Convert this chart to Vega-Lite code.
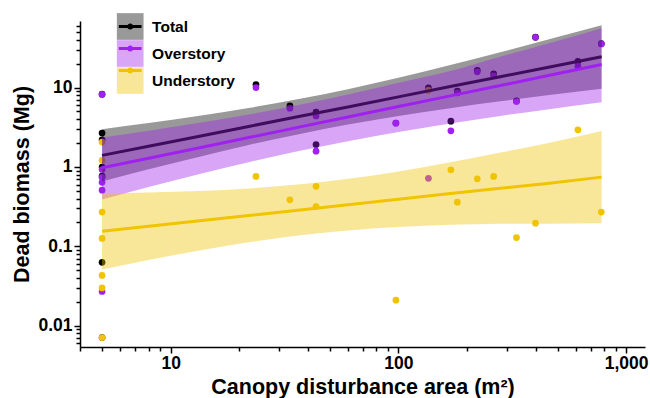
{
  "$schema": "https://vega.github.io/schema/vega-lite/v6.json",
  "width": 565,
  "height": 326,
  "autosize": {"type": "none"},
  "padding": {"left": 80, "top": 21, "right": 5, "bottom": 51},
  "config": {
    "view": {"stroke": null},
    "axis": {
      "domainColor": "#000000", "domainWidth": 1.5, "tickColor": "#000000", "tickWidth": 1.5,
      "labelFont": "Liberation Sans", "labelFontWeight": "bold", "labelFontSize": 17.5, "labelColor": "#000000",
      "titleFont": "Liberation Sans", "titleFontWeight": "bold", "titleFontSize": 21.5, "titleColor": "#000000",
      "grid": false
    }
  },
  "datasets": {
    "pts": [
      {"x": 5, "y": 8.25, "group": "Total"},
      {"x": 5, "y": 2.2, "group": "Total"},
      {"x": 5, "y": 1.0, "group": "Total"},
      {"x": 5, "y": 0.77, "group": "Total"},
      {"x": 5, "y": 2.67, "group": "Total"},
      {"x": 5, "y": 0.063, "group": "Total"},
      {"x": 5, "y": 0.0071, "group": "Total"},
      {"x": 23.7, "y": 10.9, "group": "Total"},
      {"x": 33.4, "y": 5.9, "group": "Total"},
      {"x": 43.5, "y": 4.9, "group": "Total"},
      {"x": 43.5, "y": 1.92, "group": "Total"},
      {"x": 97.5, "y": 3.58, "group": "Total"},
      {"x": 135.5, "y": 9.9, "group": "Total"},
      {"x": 170, "y": 3.77, "group": "Total"},
      {"x": 181.5, "y": 9.0, "group": "Total"},
      {"x": 222, "y": 16.5, "group": "Total"},
      {"x": 262, "y": 14.9, "group": "Total"},
      {"x": 330, "y": 6.8, "group": "Total"},
      {"x": 400, "y": 43.2, "group": "Total"},
      {"x": 614, "y": 21.4, "group": "Total"},
      {"x": 778, "y": 35.8, "group": "Total"},
      {"x": 5, "y": 8.2, "group": "Overstory"},
      {"x": 5, "y": 0.93, "group": "Overstory"},
      {"x": 5, "y": 0.74, "group": "Overstory"},
      {"x": 5, "y": 0.64, "group": "Overstory"},
      {"x": 5, "y": 0.51, "group": "Overstory"},
      {"x": 5, "y": 0.027, "group": "Overstory"},
      {"x": 23.7, "y": 10.0, "group": "Overstory"},
      {"x": 33.4, "y": 5.5, "group": "Overstory"},
      {"x": 43.5, "y": 4.4, "group": "Overstory"},
      {"x": 43.5, "y": 1.58, "group": "Overstory"},
      {"x": 97.5, "y": 3.56, "group": "Overstory"},
      {"x": 135.5, "y": 0.72, "group": "Overstory"},
      {"x": 170, "y": 2.85, "group": "Overstory"},
      {"x": 181.5, "y": 8.6, "group": "Overstory"},
      {"x": 222, "y": 15.8, "group": "Overstory"},
      {"x": 262, "y": 14.1, "group": "Overstory"},
      {"x": 330, "y": 6.7, "group": "Overstory"},
      {"x": 400, "y": 43, "group": "Overstory"},
      {"x": 614, "y": 18.6, "group": "Overstory"},
      {"x": 778, "y": 35.5, "group": "Overstory"},
      {"x": 5, "y": 0.043, "group": "Understory"},
      {"x": 5, "y": 1.21, "group": "Understory"},
      {"x": 5, "y": 0.27, "group": "Understory"},
      {"x": 5, "y": 0.126, "group": "Understory"},
      {"x": 5, "y": 2.06, "group": "Understory"},
      {"x": 5, "y": 0.03, "group": "Understory"},
      {"x": 5, "y": 0.0071, "group": "Understory"},
      {"x": 23.7, "y": 0.76, "group": "Understory"},
      {"x": 33.4, "y": 0.386, "group": "Understory"},
      {"x": 43.5, "y": 0.57, "group": "Understory"},
      {"x": 43.5, "y": 0.318, "group": "Understory"},
      {"x": 97.5, "y": 0.021, "group": "Understory"},
      {"x": 135.5, "y": 9.2, "group": "Understory"},
      {"x": 170, "y": 0.92, "group": "Understory"},
      {"x": 181.5, "y": 0.36, "group": "Understory"},
      {"x": 222, "y": 0.71, "group": "Understory"},
      {"x": 262, "y": 0.76, "group": "Understory"},
      {"x": 330, "y": 0.129, "group": "Understory"},
      {"x": 400, "y": 0.196, "group": "Understory"},
      {"x": 614, "y": 2.94, "group": "Understory"},
      {"x": 778, "y": 0.27, "group": "Understory"}
    ],
    "band": [
      {"group": "Total", "x": 5, "lo": 0.655, "fit": 1.4, "hi": 2.99},
      {"group": "Total", "x": 8, "lo": 0.933, "fit": 1.826, "hi": 3.57},
      {"group": "Total", "x": 13.4, "lo": 1.35, "fit": 2.44, "hi": 4.42},
      {"group": "Total", "x": 22, "lo": 1.89, "fit": 3.24, "hi": 5.53},
      {"group": "Total", "x": 37, "lo": 2.61, "fit": 4.35, "hi": 7.22},
      {"group": "Total", "x": 60, "lo": 3.42, "fit": 5.71, "hi": 9.56},
      {"group": "Total", "x": 100, "lo": 4.38, "fit": 7.64, "hi": 13.3},
      {"group": "Total", "x": 169, "lo": 5.51, "fit": 10.3, "hi": 19.2},
      {"group": "Total", "x": 280, "lo": 6.72, "fit": 13.7, "hi": 27.9},
      {"group": "Total", "x": 450, "lo": 8.02, "fit": 17.9, "hi": 40.0},
      {"group": "Total", "x": 780, "lo": 9.7, "fit": 24.4, "hi": 61.2},
      {"group": "Overstory", "x": 5, "lo": 0.39, "fit": 0.98, "hi": 2.35},
      {"group": "Overstory", "x": 8, "lo": 0.56, "fit": 1.29, "hi": 2.86},
      {"group": "Overstory", "x": 13.4, "lo": 0.817, "fit": 1.75, "hi": 3.6},
      {"group": "Overstory", "x": 22, "lo": 1.15, "fit": 2.35, "hi": 4.58},
      {"group": "Overstory", "x": 37, "lo": 1.6, "fit": 3.2, "hi": 6.1},
      {"group": "Overstory", "x": 60, "lo": 2.11, "fit": 4.26, "hi": 8.18},
      {"group": "Overstory", "x": 100, "lo": 2.76, "fit": 5.77, "hi": 11.5},
      {"group": "Overstory", "x": 169, "lo": 3.53, "fit": 7.87, "hi": 16.2},
      {"group": "Overstory", "x": 280, "lo": 4.39, "fit": 10.6, "hi": 24.5},
      {"group": "Overstory", "x": 450, "lo": 5.3, "fit": 14.1, "hi": 35.6},
      {"group": "Overstory", "x": 780, "lo": 6.52, "fit": 19.5, "hi": 56},
      {"group": "Understory", "x": 5, "lo": 0.0513, "fit": 0.155, "hi": 0.468},
      {"group": "Understory", "x": 8, "lo": 0.0674, "fit": 0.179, "hi": 0.477},
      {"group": "Understory", "x": 13.4, "lo": 0.0889, "fit": 0.21, "hi": 0.498},
      {"group": "Understory", "x": 22, "lo": 0.1125, "fit": 0.245, "hi": 0.536},
      {"group": "Understory", "x": 37, "lo": 0.1377, "fit": 0.288, "hi": 0.604},
      {"group": "Understory", "x": 60, "lo": 0.1586, "fit": 0.335, "hi": 0.709},
      {"group": "Understory", "x": 100, "lo": 0.1755, "fit": 0.393, "hi": 0.88},
      {"group": "Understory", "x": 169, "lo": 0.1867, "fit": 0.463, "hi": 1.146},
      {"group": "Understory", "x": 280, "lo": 0.193, "fit": 0.541, "hi": 1.518},
      {"group": "Understory", "x": 450, "lo": 0.1932, "fit": 0.62, "hi": 1.989},
      {"group": "Understory", "x": 780, "lo": 0.196, "fit": 0.745, "hi": 2.83}
    ]
  },
  "layer": [
    {
      "data": {"name": "pts"},
      "mark": {"type": "circle", "size": 45, "opacity": 1},
      "encoding": {
        "x": {
          "field": "x", "type": "quantitative",
          "scale": {"type": "log", "domain": [4, 1210], "nice": false},
          "axis": {
            "title": "Canopy disturbance area (m²)",
            "values": [4,5,6,7,8,9,10,20,30,40,50,60,70,80,90,100,200,300,400,500,600,700,800,900,1000],
            "format": ",d",
            "labelExpr": "(datum.value === 10 || datum.value === 100 || datum.value === 1000) ? datum.label : ''",
            "tickSize": {"condition": {"test": "datum.value === 10 || datum.value === 100 || datum.value === 1000", "value": 6}, "value": 4},
            "labelOverlap": false, "labelFlush": false, "labelPadding": 1,
            "titleBaseline": "alphabetic", "titleY": 46
          }
        },
        "y": {
          "field": "y", "type": "quantitative",
          "scale": {"type": "log", "domain": [0.0054, 69], "nice": false},
          "axis": {
            "title": "Dead biomass (Mg)",
            "values": [0.006,0.007,0.008,0.009,0.01,0.02,0.03,0.04,0.05,0.06,0.07,0.08,0.09,0.1,0.2,0.3,0.4,0.5,0.6,0.7,0.8,0.9,1,2,3,4,5,6,7,8,9,10,20,30,40,50,60],
            "format": "~g",
            "labelExpr": "(datum.value === 0.01 || datum.value === 0.1 || datum.value === 1 || datum.value === 10) ? datum.label : ''",
            "tickSize": {"condition": {"test": "datum.value === 0.01 || datum.value === 0.1 || datum.value === 1 || datum.value === 10", "value": 6}, "value": 4},
            "labelOverlap": false, "labelFlush": false, "labelPadding": 2, "titlePadding": 4
          }
        },
        "color": {
          "field": "group", "type": "nominal",
          "sort": ["Total", "Overstory", "Understory"],
          "scale": {"range": ["#000000", "#a020f0", "#f0c400"]},
          "legend": {
            "orient": "none", "legendX": 36.7, "legendY": -8, "title": null,
            "symbolType": "M-0.85,-0.11H0.85V0.11H-0.85Z M0.23,0A0.23,0.23 0 1,1 -0.23,0A0.23,0.23 0 1,1 0.23,0Z",
            "symbolSize": 713, "symbolStrokeWidth": 0, "symbolOpacity": 1,
            "labelExpr": "''", "labelFont": "Liberation Sans", "labelFontWeight": "bold", "labelFontSize": 15.5,
            "labelOffset": 8.4, "rowPadding": 0, "padding": 0, "offset": 0
          }
        }
      }
    },
    {
      "data": {"name": "band"},
      "transform": [{"filter": "datum.group === 'Total'"}],
      "mark": {"type": "area", "opacity": 0.4, "interpolate": "monotone"},
      "encoding": {
        "x": {"field": "x", "type": "quantitative"},
        "y": {"field": "lo", "type": "quantitative"},
        "y2": {"field": "hi"},
        "fill": {
          "field": "group", "type": "nominal",
          "scale": {"domain": ["Total", "Overstory", "Understory"], "range": ["#000000", "#a020eb", "#f0c400"]},
          "legend": {
            "orient": "none", "legendX": 36.7, "legendY": -8, "title": null,
            "symbolType": "square", "symbolSize": 713, "symbolStrokeWidth": 0, "symbolOpacity": 0.4,
            "labelFont": "Liberation Sans", "labelFontWeight": "bold", "labelFontSize": 15.5, "labelColor": "#000000",
            "labelOffset": 8.4, "rowPadding": 0, "padding": 0, "offset": 0
          }
        }
      }
    },
    {
      "data": {"name": "band"},
      "transform": [{"filter": "datum.group === 'Total'"}],
      "mark": {"type": "line", "strokeWidth": 3},
      "encoding": {
        "x": {"field": "x", "type": "quantitative"},
        "y": {"field": "fit", "type": "quantitative"},
        "stroke": {"field": "group", "type": "nominal", "scale": {"domain": ["Total", "Overstory", "Understory"], "range": ["#000000", "#a020f0", "#f0c400"]}, "legend": null}
      }
    },
    {
      "data": {"name": "band"},
      "transform": [{"filter": "datum.group === 'Overstory'"}],
      "mark": {"type": "area", "opacity": 0.4, "interpolate": "monotone"},
      "encoding": {
        "x": {"field": "x", "type": "quantitative"},
        "y": {"field": "lo", "type": "quantitative"},
        "y2": {"field": "hi"},
        "fill": {"field": "group", "type": "nominal"}
      }
    },
    {
      "data": {"name": "band"},
      "transform": [{"filter": "datum.group === 'Overstory'"}],
      "mark": {"type": "line", "strokeWidth": 3},
      "encoding": {
        "x": {"field": "x", "type": "quantitative"},
        "y": {"field": "fit", "type": "quantitative"},
        "stroke": {"field": "group", "type": "nominal", "legend": null}
      }
    },
    {
      "data": {"name": "band"},
      "transform": [{"filter": "datum.group === 'Understory'"}],
      "mark": {"type": "area", "opacity": 0.4, "interpolate": "monotone"},
      "encoding": {
        "x": {"field": "x", "type": "quantitative"},
        "y": {"field": "lo", "type": "quantitative"},
        "y2": {"field": "hi"},
        "fill": {"field": "group", "type": "nominal"}
      }
    },
    {
      "data": {"name": "band"},
      "transform": [{"filter": "datum.group === 'Understory'"}],
      "mark": {"type": "line", "strokeWidth": 3},
      "encoding": {
        "x": {"field": "x", "type": "quantitative"},
        "y": {"field": "fit", "type": "quantitative"},
        "stroke": {"field": "group", "type": "nominal", "legend": null}
      }
    }
  ]
}
